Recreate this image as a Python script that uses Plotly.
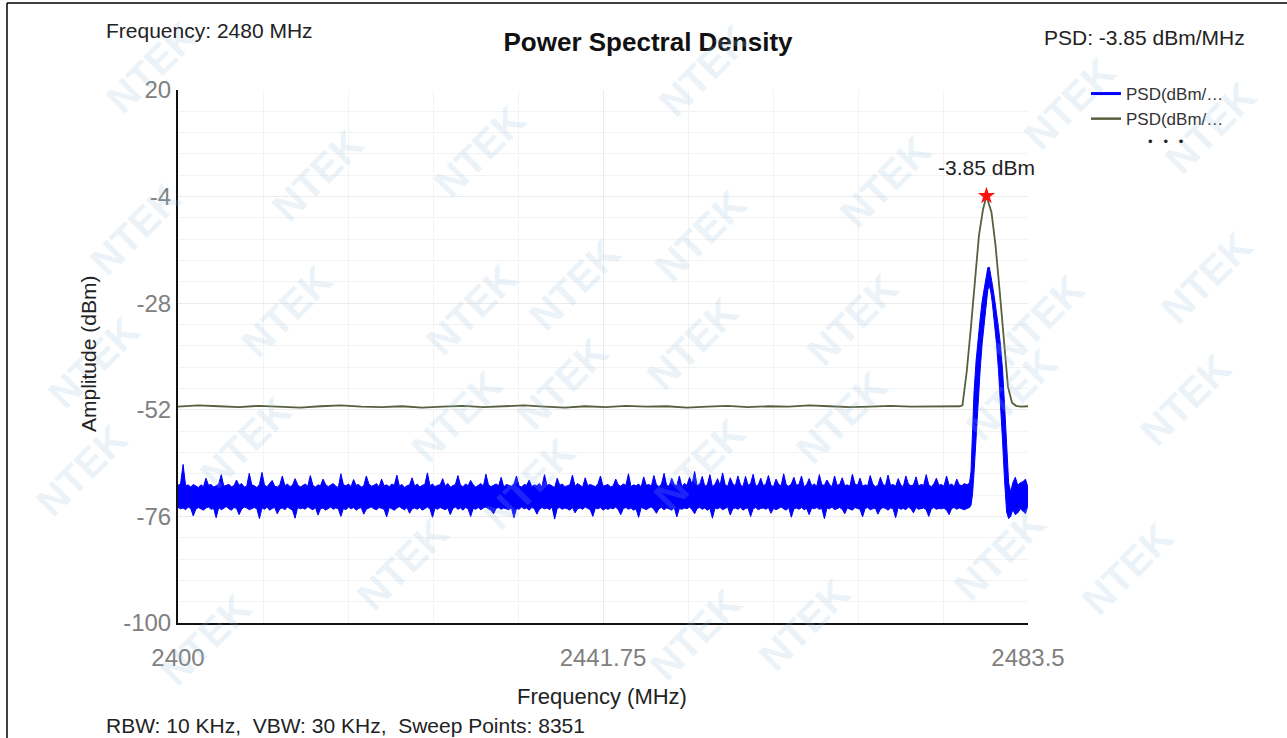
import plotly.graph_objects as go

# ---------------- data ----------------
# Blue PSD trace: noise-floor envelope (upper / lower) on a 0.25 MHz grid, 2400 .. 2477.5
noise_start = 2400.0
noise_step = 0.25
blue_noise_hi = [
    -69.0, -68.7, -64.3, -69.1, -68.9, -69.4, -68.8, -69.2, -69.5, -68.9,
    -69.3, -67.4, -69.0, -68.8, -69.4, -69.1, -68.7, -66.6, -69.2, -69.0,
    -68.8, -69.3, -69.1, -67.8, -69.0, -68.6, -69.4, -69.2, -66.3, -68.9,
    -69.1, -69.5, -68.8, -66.1, -69.0, -69.3, -68.7, -67.9, -69.2, -69.4,
    -68.9, -66.9, -69.1, -68.7, -69.3, -69.0, -67.5, -68.8, -69.4, -69.1,
    -68.7, -69.2, -66.8, -69.0, -69.4, -68.9, -69.1, -67.6, -68.8, -69.3,
    -69.0, -68.6, -69.2, -69.5, -66.4, -68.9, -69.1, -68.7, -69.3, -67.7,
    -69.0, -68.8, -69.4, -69.1, -66.9, -68.7, -69.2, -69.0, -68.6, -69.4,
    -67.6, -69.1, -68.9, -69.3, -68.7, -69.0, -66.7, -69.2, -68.8, -69.5,
    -69.1, -68.9, -67.3, -69.2, -68.7, -69.4, -69.0, -68.8, -66.2, -69.1,
    -68.7, -69.3, -69.0, -68.9, -67.5, -69.2, -68.6, -69.4, -69.1, -68.8,
    -66.8, -69.0, -69.3, -68.7, -69.1, -67.9, -68.9, -69.4, -69.0, -68.6,
    -69.2, -66.5, -68.9, -69.3, -69.0, -68.7, -69.1, -67.2, -69.4, -68.8,
    -69.0, -69.2, -68.7, -66.9, -69.1, -69.4, -68.8, -69.0, -67.8, -69.3,
    -68.9, -69.1, -68.6, -69.4, -66.6, -69.0, -68.8, -69.2, -69.5, -67.4,
    -69.0, -68.7, -69.3, -69.1, -68.9, -66.7, -69.2, -68.6, -69.0, -69.4,
    -67.3, -69.1, -68.8, -69.0, -69.3, -68.7, -66.9, -69.2, -69.0, -68.8,
    -69.4, -69.1, -67.6, -68.9, -69.2, -68.7, -69.0, -66.4, -69.3, -68.9,
    -69.1, -68.7, -69.4, -67.1, -69.0, -68.8, -69.2, -66.8, -68.9, -69.3,
    -68.7, -66.3, -69.0, -69.2, -67.4, -68.8, -69.1, -66.9, -69.3, -68.6,
    -69.0, -67.2, -68.8, -65.9, -69.1, -68.7, -67.0, -69.2, -68.9, -66.6,
    -69.3, -68.8, -67.5, -69.0, -66.2, -68.9, -69.2, -67.3, -68.7, -69.1,
    -66.9, -68.8, -69.3, -67.0, -69.0, -68.6, -66.5, -69.2, -68.9, -67.4,
    -69.1, -68.7, -66.8, -69.0, -69.3, -67.6, -68.8, -69.1, -66.4, -68.9,
    -69.2, -68.7, -67.2, -69.0, -68.8, -66.9, -69.3, -68.9, -67.5, -69.1,
    -68.7, -69.2, -66.6, -68.9, -69.0, -67.8, -68.8, -69.3, -66.9, -69.0,
    -68.8, -67.3, -69.1, -68.9, -69.2, -66.5, -68.7, -69.0, -67.4, -69.2,
    -68.9, -69.1, -66.8, -68.7, -69.3, -69.0, -67.2, -68.8, -69.1, -66.7,
    -69.0, -68.8, -69.2, -67.5, -68.9, -69.3, -66.9, -68.7, -69.1, -68.9,
    -67.1, -69.2, -68.8, -69.0, -66.6, -68.9, -69.3, -68.7, -67.4, -69.0,
    -68.8, -69.2, -66.9, -69.0, -68.7, -69.3, -67.6, -68.9, -69.1, -68.6,
    -68.9,
]
blue_noise_lo = [
    -74.0, -74.3, -74.1, -74.5, -73.9, -74.2, -75.9, -74.4, -74.0, -74.3,
    -74.6, -74.1, -73.9, -74.4, -74.2, -76.3, -74.0, -74.5, -74.1, -73.8,
    -74.3, -74.6, -74.0, -74.2, -75.6, -74.4, -73.9, -74.1, -74.5, -74.2,
    -74.0, -74.3, -76.5, -74.1, -74.4, -73.9, -74.6, -74.2, -74.0, -75.4,
    -74.3, -74.1, -74.5, -73.9, -74.2, -74.6, -76.4, -74.0, -74.3, -74.1,
    -74.4, -73.8, -74.2, -74.5, -74.0, -75.7, -74.3, -74.1, -74.6, -74.2,
    -73.9, -74.4, -74.1, -74.3, -76.0, -74.2, -74.5, -73.9, -74.3, -74.0,
    -74.6, -74.2, -74.0, -75.5, -74.4, -74.1, -73.9, -74.3, -74.5, -74.0,
    -74.2, -74.4, -76.1, -74.0, -74.3, -74.6, -74.1, -73.8, -74.2, -74.5,
    -74.0, -75.3, -74.3, -74.1, -74.4, -74.0, -74.6, -74.2, -73.9, -74.3,
    -76.2, -74.1, -74.4, -74.0, -74.3, -74.5, -74.1, -75.6, -74.2, -73.9,
    -74.4, -74.1, -74.6, -74.0, -74.3, -76.0, -74.2, -74.4, -74.0, -74.5,
    -74.1, -73.9, -74.3, -74.6, -75.4, -74.2, -74.0, -74.4, -74.1, -74.3,
    -74.5, -74.0, -76.3, -74.2, -74.4, -73.9, -74.3, -74.1, -74.6, -74.0,
    -74.2, -75.5, -74.4, -74.0, -74.3, -74.1, -74.5, -73.9, -76.6, -74.2,
    -74.0, -74.4, -74.1, -74.3, -74.6, -74.0, -75.2, -74.3, -74.1, -74.4,
    -73.9, -74.2, -74.5, -76.0, -74.1, -74.3, -74.0, -74.6, -74.2, -74.4,
    -74.1, -74.3, -73.9, -74.5, -75.6, -74.2, -74.0, -74.4, -74.1, -74.6,
    -74.3, -76.2, -74.0, -74.2, -74.5, -74.1, -73.9, -74.4, -75.3, -74.2,
    -74.0, -74.5, -74.1, -74.3, -74.6, -74.0, -76.1, -74.2, -74.4, -74.1,
    -74.3, -73.9, -74.5, -75.4, -74.2, -74.0, -74.4, -74.1, -74.6, -74.2,
    -76.4, -74.1, -74.3, -74.0, -74.5, -74.2, -73.9, -75.7, -74.3, -74.1,
    -74.4, -74.0, -74.6, -74.2, -74.1, -76.0, -74.3, -74.0, -74.5, -74.2,
    -74.1, -74.4, -74.0, -75.3, -74.2, -74.5, -74.1, -73.9, -74.3, -74.6,
    -74.0, -76.2, -74.3, -74.1, -74.4, -74.0, -74.5, -74.2, -75.6, -74.1,
    -74.3, -74.0, -74.4, -74.2, -76.5, -74.1, -74.3, -73.9, -74.5, -74.2,
    -74.0, -74.4, -75.4, -74.1, -74.3, -74.6, -74.0, -74.2, -74.4, -76.1,
    -74.2, -74.0, -74.5, -74.3, -74.1, -75.5, -74.4, -74.0, -74.2, -74.6,
    -74.1, -74.3, -76.3, -74.0, -74.4, -74.2, -74.5, -73.9, -74.3, -75.2,
    -74.0, -74.4, -74.2, -74.1, -74.5, -76.0, -74.3, -74.0, -74.4, -74.2,
    -74.3, -74.1, -74.6, -75.6, -74.2, -74.0, -74.4, -74.1, -74.3, -74.5,
    -74.2,
]
# Blue PSD trace: carrier region and tail
blue_peak_freq = [2477.75, 2477.9, 2478.05, 2478.2, 2478.4, 2478.6, 2478.8, 2479.0,
                  2479.2, 2479.4, 2479.55, 2479.7, 2479.85, 2480.0, 2480.2, 2480.4,
                  2480.6, 2480.8, 2481.0, 2481.2, 2481.4, 2481.6, 2481.8,
                  2482.0, 2482.25, 2482.5, 2482.75, 2483.0, 2483.25, 2483.5]
blue_peak_hi = [-68.5, -66.0, -56.0, -48.0, -41.0, -35.5, -31.5, -27.5,
                -24.5, -21.5, -20.0, -19.9, -21.5, -23.8, -26.8, -29.8,
                -33.5, -37.5, -43.0, -51.0, -61.0, -68.5, -70.5,
                -68.5, -67.2, -69.0, -68.4, -68.2, -67.6, -69.5]
blue_peak_lo = [-74.0, -73.5, -71.0, -66.0, -58.0, -50.0, -43.0, -37.0,
                -32.0, -28.0, -25.0, -24.0, -25.5, -28.0, -32.0, -37.0,
                -43.0, -50.0, -59.0, -68.0, -75.0, -76.5, -76.0,
                -74.5, -75.6, -75.2, -74.3, -74.8, -75.4, -73.5]

# Olive PSD trace (max-hold): flat floor on a 2 MHz grid 2400 .. 2476, then the carrier
floor_start = 2400.0
floor_step = 2.0
green_floor = [
    -51.3, -51.0, -51.2, -51.4, -51.1, -51.3, -51.5, -51.2, -51.0, -51.3,
    -51.4, -51.2, -51.5, -51.3, -51.1, -51.4, -51.2, -51.0, -51.3, -51.5,
    -51.2, -51.4, -51.1, -51.3, -51.2, -51.5, -51.3, -51.1, -51.4, -51.2,
    -51.3, -51.0, -51.2, -51.4, -51.3, -51.1, -51.3, -51.2, -51.1,
]
green_peak_freq = [2476.8, 2477.06, 2477.25, 2477.47, 2477.87, 2478.28, 2478.68, 2479.08,
                   2479.42, 2479.91, 2480.31, 2480.73, 2481.14, 2481.53, 2481.93, 2482.32,
                   2482.8, 2483.5]
green_peak_val = [-51.2, -51.0, -47.5, -43.6, -34.0, -23.4, -12.8, -6.9,
                  -3.85, -7.5, -15.0, -25.6, -37.3, -46.8, -50.4, -51.1,
                  -51.3, -51.2]

peak_freq = 2479.42
peak_val = -3.85

x_ticks = [2400, 2441.75, 2483.5]
y_ticks = [-100, -76, -52, -28, -4, 20]

header_left = "Frequency: 2480 MHz"
header_right = "PSD: -3.85 dBm/MHz"
footer = "RBW: 10 KHz,\u00a0 VBW: 30 KHz,\u00a0 Sweep Points: 8351"
legend_name = "PSD(dBm/\u2026"

# ---------------- build ----------------
blue_x = [noise_start + noise_step * i for i in range(len(blue_noise_hi))] + blue_peak_freq
blue_hi = blue_noise_hi + blue_peak_hi
blue_lo = blue_noise_lo + blue_peak_lo
green_x = [floor_start + floor_step * i for i in range(len(green_floor))] + green_peak_freq
green_y = green_floor + green_peak_val

BLUE = "#0000ff"
OLIVE = "#56603e"
FONT = "Liberation Sans, Arial, sans-serif"

# plot-area pixel geometry (for placing free text)
W, H = 1287, 738
L, R, T, B = 178, 1028, 90, 623
def px(xp):
    return (xp - L) / (R - L)
def py(yp):
    return (B - yp) / (B - T)

fig = go.Figure()

fig.add_trace(go.Scatter(x=blue_x, y=blue_hi, mode="lines",
                         line=dict(color=BLUE, width=1), showlegend=False,
                         hoverinfo="skip"))
fig.add_trace(go.Scatter(x=blue_x, y=blue_lo, mode="lines", fill="tonexty",
                         fillcolor=BLUE, line=dict(color=BLUE, width=1),
                         showlegend=False, hoverinfo="skip"))
fig.add_trace(go.Scatter(x=green_x, y=green_y, mode="lines",
                         line=dict(color=OLIVE, width=1.8), showlegend=False))
fig.add_trace(go.Scatter(x=[peak_freq], y=[peak_val], mode="markers",
                         marker=dict(symbol="star", size=13, color="#ff1010"),
                         showlegend=False))
# legend entries
fig.add_trace(go.Scatter(x=[None], y=[None], mode="lines", name=legend_name,
                         line=dict(color=BLUE, width=3)))
fig.add_trace(go.Scatter(x=[None], y=[None], mode="lines", name=legend_name,
                         line=dict(color=OLIVE, width=2.5)))

# watermark positions (pixel centres), purely decorative
wm = [(95, 10), (79, 172), (261, 118), (423, 94), (574, 228), (415, 252), (230, 311),
      (37, 362), (400, 416), (562, 384), (189, 499), (25, 527), (346, 621), (529, 541),
      (149, 696), (761, 14), (757, 179), (942, 125), (1126, 47), (1267, 71), (749, 344),
      (909, 320), (1095, 264), (1263, 221), (699, 522), (898, 475), (1068, 452),
      (1242, 400), (861, 682), (1056, 612), (1184, 626), (695, 692)]
annotations = []
for (a, b) in wm:
    annotations.append(dict(xref="paper", yref="paper", x=px(a), y=py(b), text="<b>NTEK</b>",
                            showarrow=False, textangle=-45,
                            font=dict(family=FONT, size=40, color="rgba(150,195,228,0.2)")))

annotations += [
    dict(xref="paper", yref="paper", x=px(104), y=py(31), xanchor="left", yanchor="middle",
         text=header_left, showarrow=False, font=dict(family=FONT, size=21, color="#222")),
    dict(xref="paper", yref="paper", x=px(1247), y=py(37), xanchor="right", yanchor="middle",
         text=header_right, showarrow=False, font=dict(family=FONT, size=21, color="#222")),
    dict(xref="paper", yref="paper", x=px(104), y=py(725), xanchor="left", yanchor="middle",
         text=footer, showarrow=False, font=dict(family=FONT, size=21, color="#222")),
    dict(xref="paper", yref="paper", x=px(602), y=py(696), xanchor="center", yanchor="middle",
         text="Frequency (MHz)", showarrow=False, font=dict(family=FONT, size=22, color="#222")),
    dict(xref="paper", yref="paper", x=px(88), y=py(354), xanchor="center", yanchor="middle",
         text="Amplitude (dBm)", showarrow=False, textangle=-90,
         font=dict(family=FONT, size=21, color="#222")),
    dict(xref="paper", yref="paper", x=px(1166), y=py(141), xanchor="center", yanchor="middle",
         text="\u2022\u00a0\u00a0\u00a0\u2022\u00a0\u00a0\u00a0\u2022", showarrow=False,
         font=dict(family=FONT, size=13, color="#222")),
    dict(x=peak_freq, y=peak_val, yshift=28, text=f"{peak_val:.2f} dBm", showarrow=False,
         font=dict(family=FONT, size=21, color="#222")),
]

shapes = [
    dict(type="line", xref="paper", yref="paper", x0=px(7), x1=px(7), y0=py(740), y1=py(3),
         line=dict(color="#000", width=1.5)),
    dict(type="line", xref="paper", yref="paper", x0=px(7), x1=px(1290), y0=py(3), y1=py(3),
         line=dict(color="#000", width=1.5)),
]

fig.update_layout(
    width=W, height=H,
    margin=dict(l=L, r=W - R, t=T, b=H - B),
    paper_bgcolor="white", plot_bgcolor="white",
    font=dict(family=FONT, color="#222"),
    title=dict(text="<b>Power Spectral Density</b>", x=648 / W, xanchor="center",
               y=1 - 42 / H, yanchor="middle", yref="container",
               font=dict(family=FONT, size=26, color="#111")),
    legend=dict(x=px(1086), y=py(76), xanchor="left", yanchor="top", traceorder="normal",
                font=dict(family=FONT, size=17, color="#333"),
                bgcolor="rgba(0,0,0,0)", itemwidth=30, tracegroupgap=0),
    annotations=annotations,
    shapes=shapes,
    showlegend=True,
)
fig.update_xaxes(range=[2400, 2483.5], tickvals=x_ticks, ticktext=[str(v) for v in x_ticks],
                 showline=True, linecolor="#111", linewidth=2, ticks="",
                 ticklabelstandoff=12,
                 tickfont=dict(family=FONT, size=24, color="#808080"),
                 showgrid=True, gridcolor="#ebebeb", gridwidth=1, zeroline=False,
                 minor=dict(tick0=2400, dtick=8.35, showgrid=True, gridcolor="#f3f3f3"))
fig.update_yaxes(range=[-100, 20], tickvals=y_ticks, ticktext=[str(v) for v in y_ticks],
                 showline=True, linecolor="#111", linewidth=2, ticks="",
                 ticklabelstandoff=0,
                 tickfont=dict(family=FONT, size=24, color="#808080"),
                 showgrid=True, gridcolor="#ebebeb", gridwidth=1, zeroline=False,
                 minor=dict(tick0=-100, dtick=4.8, showgrid=True, gridcolor="#f3f3f3"))

fig.write_html("out.html", config={"displayModeBar": False},
               post_script="document.body.style.margin='0px';document.body.style.overflow='hidden';")
